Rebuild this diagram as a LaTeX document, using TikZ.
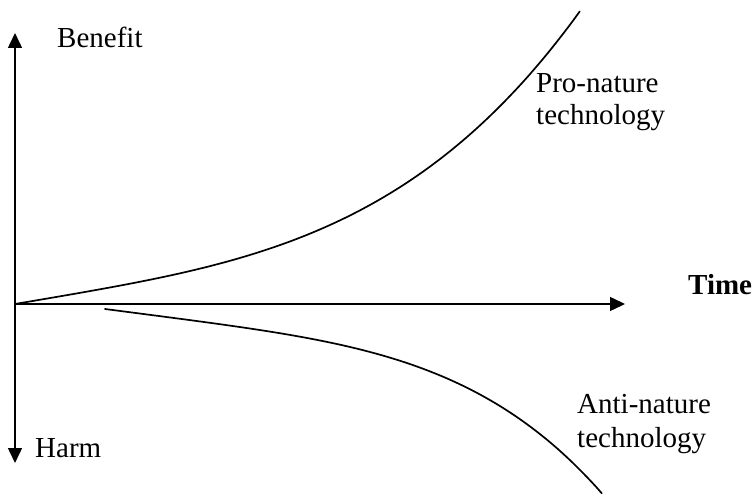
\documentclass[tikz,border=0pt]{standalone}
\usepackage{fontspec}
\setmainfont{Liberation Serif}
\usetikzlibrary{arrows.meta}
\begin{document}
\begin{tikzpicture}[x=1pt,y=-1pt,
  axis/.style={line width=1.5pt,-{Triangle[length=15pt,width=14pt]}},
  trend/.style={line width=1.7pt,line cap=round},
  lbl/.style={inner sep=0pt,anchor=base west,font=\fontsize{29}{33}\selectfont},
  curvelbl/.style={lbl,align=left}]
  \useasboundingbox (0,0) rectangle (755,494);

  % axes
  \coordinate (O) at (15,304);
  \coordinate (top) at (15,33);
  \coordinate (bottom) at (15,463);
  \coordinate (right) at (625,304);
  \draw[axis] (O) -- (top);
  \draw[axis] (O) -- (bottom);
  \draw[axis] (O) -- (right);
  \draw[line width=2.1pt] (15,193) -- (O);

  % axis labels
  \node[lbl] (benefit) at (57,48) {Benefit};
  \node[lbl] (harm) at (35,457) {Harm};
  \node[lbl,font=\fontsize{29}{33}\selectfont\bfseries] (time) at (688,295) {Time};

  % trend curves: gentle start, steepening growth / decline
  \draw[trend] plot[domain=0:1,samples=90,smooth]
    ({15+565*\x},{304-(96*\x+197*\x^3.5)});
  \draw[trend] plot[domain=0:1,samples=90,smooth]
    ({105+497*\x},{309+(64.6*\x+120*\x^4.2)});

  % curve labels (anchored at the baseline of the last line)
  \node[curvelbl,font=\fontsize{29}{32}\selectfont] (pro) at (536,125) {Pro-nature\\technology};
  \node[curvelbl,font=\fontsize{29}{34}\selectfont] (anti) at (577,447) {Anti-nature\\technology};
\end{tikzpicture}
\end{document}
